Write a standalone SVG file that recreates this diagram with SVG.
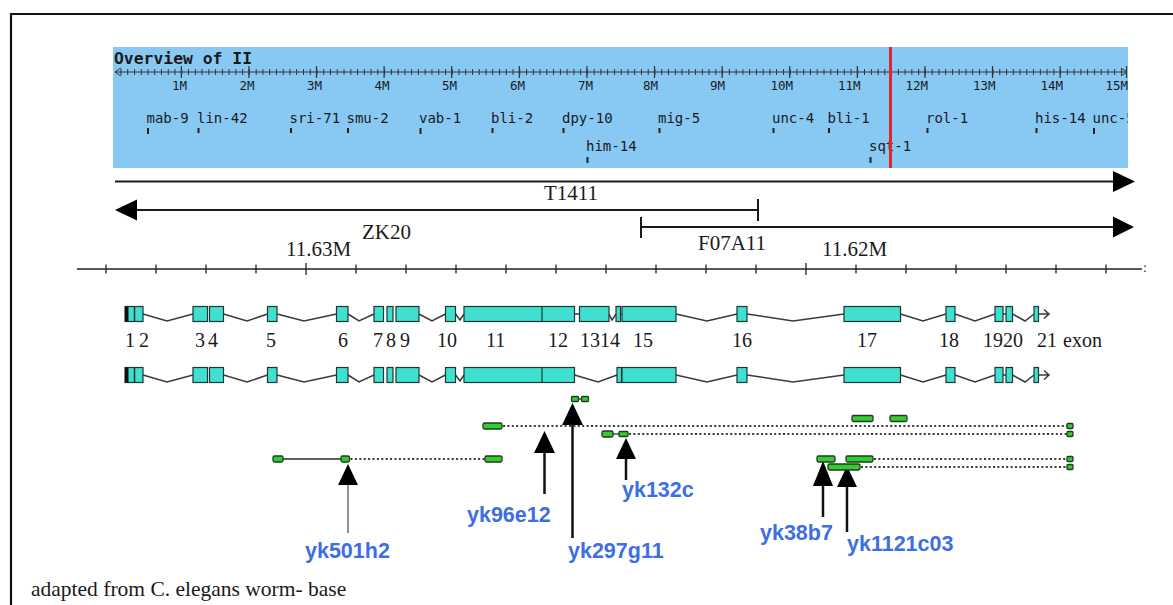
<svg xmlns="http://www.w3.org/2000/svg" width="1173" height="605" viewBox="0 0 1173 605">
<style>
.mono{font-family:"DejaVu Sans Mono","Liberation Mono",monospace;fill:#1a1a1a}
.ser{font-family:"Liberation Serif","Times New Roman",serif;fill:#1a1a1a}
.lab{font-family:"Liberation Sans",Arial,sans-serif;font-weight:bold;font-size:21.5px;fill:#3d6ee4}
.ex{fill:#40e0d0;stroke:#1d3636;stroke-width:1.2}
.intr{fill:none;stroke:#3a3a3a;stroke-width:1.5}
.cl{fill:#33cc33;stroke:#1e3d1e;stroke-width:1.3}
.dot{stroke:#3a3a3a;stroke-width:2;stroke-dasharray:2 2.4;fill:none}
.ln{stroke:#1a1a1a;stroke-width:2;fill:none}
.ar{fill:#000}
.tail{stroke:#111;stroke-width:2.5}
</style>
<defs>
<pattern id="mtick" patternUnits="userSpaceOnUse" x="113.7" y="0" width="6.76" height="10">
<rect x="0" y="0" width="1" height="10" fill="#333"/>
</pattern>
</defs>
<rect width="1173" height="605" fill="#fff"/>
<path d="M11,605 V14 H1173" fill="none" stroke="#111" stroke-width="2.2"/>

<g id="overview">
<rect x="113" y="47" width="1015" height="121" fill="#88c9f4"/>
<text class="mono" x="114" y="64" font-size="15.5" font-weight="bold" textLength="138" lengthAdjust="spacingAndGlyphs">Overview of II</text>
<line x1="115" y1="72" x2="1127" y2="72" stroke="#333" stroke-width="1"/>
<rect x="115" y="69" width="1012" height="6" fill="url(#mtick)"/>
<path d="M121,68 L115,72 L121,76 M1121,68 L1127,72 L1121,76" fill="none" stroke="#333" stroke-width="1"/>
<path d="M181.3,66V78 M248.9,66V78 M316.5,66V78 M384.1,66V78 M451.7,66V78 M519.3,66V78 M586.9,66V78 M654.5,66V78 M722.1,66V78 M789.7,66V78 M857.3,66V78 M924.9,66V78 M992.5,66V78 M1060.1,66V78 M1126.5,66V78" stroke="#333" stroke-width="1.2"/>
<g class="mono" font-size="12.5" text-anchor="end">
<text x="187" y="90">1M</text><text x="254.5" y="90">2M</text><text x="322" y="90">3M</text><text x="389.5" y="90">4M</text><text x="457" y="90">5M</text><text x="525" y="90">6M</text><text x="593" y="90">7M</text><text x="658" y="90">8M</text><text x="725" y="90">9M</text><text x="793" y="90">10M</text><text x="860.5" y="90">11M</text><text x="928" y="90">12M</text><text x="995.5" y="90">13M</text><text x="1063" y="90">14M</text><text x="1128" y="90">15M</text>
</g>
<g class="mono" font-size="14">
<text x="146.5" y="123">mab-9</text><text x="197" y="123">lin-42</text><text x="289.5" y="123">sri-71</text><text x="346.5" y="123">smu-2</text><text x="419" y="123">vab-1</text><text x="491" y="123">bli-2</text><text x="562" y="123">dpy-10</text><text x="658" y="123">mig-5</text><text x="772" y="123">unc-4</text><text x="827.5" y="123">bli-1</text><text x="926" y="123">rol-1</text><text x="1035" y="123">his-14</text>
<svg x="1090" y="100" width="38" height="30" overflow="hidden"><text x="2.5" y="23">unc-5</text></svg>
<text x="586" y="151">him-14</text><text x="869" y="151">sqt-1</text>
</g>
<path d="M148,128V134 M198.5,128V133 M291,128V133 M348,128V133 M420.5,128V134 M492.5,128V133 M563.5,128V133 M659.5,128V133 M773.5,128V133 M829,128V133 M927.5,128V133 M1036.5,128V133 M1094,128V134 M587.5,157V163 M870.5,157V163" stroke="#222" stroke-width="2"/>
<rect x="889" y="47" width="3" height="121" fill="#e0262a"/>
</g>

<g id="clones-map">
<line class="ln" x1="115" y1="181.5" x2="1115" y2="181.5"/>
<polygon class="ar" points="1113,171 1135,181.5 1113,192"/>
<text class="ser" x="544" y="200" font-size="21">T1411</text>
<line class="ln" x1="135" y1="210" x2="758" y2="210"/>
<polygon class="ar" points="115,210 137,199.5 137,220.5"/>
<line class="ln" x1="758" y1="199" x2="758" y2="221"/>
<text class="ser" x="362" y="239" font-size="21">ZK20</text>
<line class="ln" x1="641" y1="227" x2="1115" y2="227"/>
<line class="ln" x1="641" y1="217" x2="641" y2="238"/>
<polygon class="ar" points="1113,216.5 1134,227 1113,237.5"/>
<text class="ser" x="698" y="250" font-size="21">F07A11</text>
</g>

<g id="scale">
<line x1="77" y1="269" x2="1142" y2="269" stroke="#222" stroke-width="1.6"/>
<path d="M106,264.5V273.5 M156,264.5V273.5 M206,264.5V273.5 M256,264.5V273.5 M306,263V275 M356,264.5V273.5 M406,264.5V273.5 M456,264.5V273.5 M506,264.5V273.5 M556,264.5V273.5 M606,264.5V273.5 M656,264.5V273.5 M706,264.5V273.5 M756,264.5V273.5 M806,263V275 M856,264.5V273.5 M906,264.5V273.5 M956,264.5V273.5 M1006,264.5V273.5 M1056,264.5V273.5 M1106,264.5V273.5 M1145,265.5V267 M1145,270.5V272" stroke="#222" stroke-width="1.3"/>
<text class="ser" x="286" y="256" font-size="21">11.63M</text>
<text class="ser" x="822" y="256" font-size="21">11.62M</text>
</g>

<g id="transcript-1">
<path class="intr" d="M143,314 L167,321 L193,314 M223.5,314 L247,321 L267.5,314 M277,314 L304,321 L336.5,314 M348,314 L359,321 L374,314 M419,314 L432,321 L445.5,314 M455.5,314 L460,320 L464,314 M574.5,314 L579.5,314 M609,314 L612,320 L616,314 M620.5,314 L622,314 M676,314 L707,321 L737,314 M747,314 L793,321 L844,314 M900.5,314 L923,321 L946,314 M955,314 L975,321 L995,314 M1003,314 L1006,314 M1012.5,314 L1025,321 L1034,314 M1038.5,314 L1049,314 M1044,309.5 L1049,314 L1044,318.5"/>
<rect class="ex" x="125" y="306.5" width="18" height="15"/>
<rect x="125" y="306.5" width="3.5" height="15" fill="#111"/>
<line x1="134.5" y1="306.5" x2="134.5" y2="321.5" stroke="#1d3636" stroke-width="1.5"/>
<rect class="ex" x="193" y="306.5" width="14.5" height="15"/>
<rect class="ex" x="209.5" y="306.5" width="14" height="15"/>
<rect class="ex" x="267.5" y="306.5" width="9.5" height="15"/>
<rect class="ex" x="336.5" y="306.5" width="11.5" height="15"/>
<rect class="ex" x="374" y="306.5" width="9.5" height="15"/>
<rect class="ex" x="387" y="306.5" width="6" height="15"/>
<rect class="ex" x="396" y="306.5" width="23" height="15"/>
<rect class="ex" x="445.5" y="306.5" width="10" height="15"/>
<rect class="ex" x="464" y="306.5" width="110.5" height="15"/>
<line x1="542" y1="306.5" x2="542" y2="321.5" stroke="#1d3636" stroke-width="1.2"/>
<rect class="ex" x="579.5" y="306.5" width="29.5" height="15"/>
<rect class="ex" x="616" y="306.5" width="4.5" height="15"/>
<rect class="ex" x="622" y="306.5" width="54" height="15"/>
<rect class="ex" x="737" y="306.5" width="10" height="15"/>
<rect class="ex" x="844" y="306.5" width="56.5" height="15"/>
<rect class="ex" x="946" y="306.5" width="9" height="15"/>
<rect class="ex" x="995" y="306.5" width="8" height="15"/>
<rect class="ex" x="1006" y="306.5" width="6.5" height="15"/>
<rect class="ex" x="1034" y="306.5" width="4.5" height="15"/>
</g>

<g id="exon-numbers" class="ser" font-size="20">
<text x="125" y="347">1</text><text x="139" y="347">2</text><text x="195" y="347">3</text><text x="208" y="347">4</text><text x="266" y="347">5</text><text x="338" y="347">6</text><text x="373" y="347">7</text><text x="386" y="347">8</text><text x="400" y="347">9</text><text x="437" y="347">10</text><text x="486" y="347">11</text><text x="548" y="347">12</text><text x="580" y="347">13</text><text x="600" y="347">14</text><text x="633" y="347">15</text><text x="732" y="347">16</text><text x="857" y="347">17</text><text x="939" y="347">18</text><text x="983" y="347">1920</text><text x="1037" y="347">21</text><text x="1063" y="347">exon</text>
</g>

<g id="transcript-2">
<path class="intr" d="M143,375 L167,382 L193,375 M223.5,375 L247,382 L267.5,375 M277,375 L304,382 L336.5,375 M348,375 L359,382 L374,375 M419,375 L432,382 L445.5,375 M455.5,375 L460,381 L464,375 M574.5,375 L598,382 L617,375 M621.5,375 L622,375 M676,375 L707,382 L737,375 M747,375 L793,382 L844,375 M900.5,375 L923,382 L946,375 M955,375 L975,382 L995,375 M1003,375 L1006,375 M1012.5,375 L1025,382 L1034,375 M1038.5,375 L1049,375 M1044,370.5 L1049,375 L1044,379.5"/>
<rect class="ex" x="125" y="367.5" width="18" height="15"/>
<rect x="125" y="367.5" width="3.5" height="15" fill="#111"/>
<line x1="134.5" y1="367.5" x2="134.5" y2="382.5" stroke="#1d3636" stroke-width="1.5"/>
<rect class="ex" x="193" y="367.5" width="14.5" height="15"/>
<rect class="ex" x="209.5" y="367.5" width="14" height="15"/>
<rect class="ex" x="267.5" y="367.5" width="9.5" height="15"/>
<rect class="ex" x="336.5" y="367.5" width="11.5" height="15"/>
<rect class="ex" x="374" y="367.5" width="9.5" height="15"/>
<rect class="ex" x="387" y="367.5" width="6" height="15"/>
<rect class="ex" x="396" y="367.5" width="23" height="15"/>
<rect class="ex" x="445.5" y="367.5" width="10" height="15"/>
<rect class="ex" x="464" y="367.5" width="110.5" height="15"/>
<line x1="542" y1="367.5" x2="542" y2="382.5" stroke="#1d3636" stroke-width="1.2"/>
<rect class="ex" x="617" y="367.5" width="4.5" height="15"/>
<rect class="ex" x="622" y="367.5" width="54" height="15"/>
<rect class="ex" x="737" y="367.5" width="10" height="15"/>
<rect class="ex" x="844" y="367.5" width="56.5" height="15"/>
<rect class="ex" x="946" y="367.5" width="9" height="15"/>
<rect class="ex" x="995" y="367.5" width="8" height="15"/>
<rect class="ex" x="1006" y="367.5" width="6.5" height="15"/>
<rect class="ex" x="1034" y="367.5" width="4.5" height="15"/>
</g>

<g id="connectors">
<polygon class="ar" points="348,464 338,485 358,485"/>
<line x1="348" y1="485" x2="348" y2="533" stroke="#555" stroke-width="1.3"/>
<polygon class="ar" points="544.5,431 534,453 555,453"/>
<line class="tail" x1="544.5" y1="453" x2="544.5" y2="494"/>
<polygon class="ar" points="572.5,403 562,425 583,425"/>
<line class="tail" x1="572.5" y1="425" x2="572.5" y2="538"/>
<polygon class="ar" points="626,438 616,459 636,459"/>
<line class="tail" x1="626" y1="459" x2="626" y2="480"/>
<polygon class="ar" points="823,461 813,486 833,486"/>
<line class="tail" x1="823" y1="486" x2="823" y2="517"/>
<polygon class="ar" points="847,466 837,487 857,487"/>
<line class="tail" x1="847" y1="487" x2="847" y2="532"/>
</g>

<g id="cdna-clones">
<line x1="578.5" y1="399" x2="581.5" y2="399" stroke="#1e3d1e" stroke-width="1.3"/>
<rect class="cl" x="571.5" y="396.5" width="7" height="5" rx="1"/>
<rect class="cl" x="581.5" y="396.5" width="7" height="5" rx="1"/>
<rect class="cl" x="852" y="415.5" width="21" height="6" rx="1.5"/>
<rect class="cl" x="890" y="415.5" width="17" height="6" rx="1.5"/>
<line class="dot" x1="503" y1="426" x2="1067" y2="426"/>
<rect class="cl" x="483" y="423" width="19" height="6" rx="1.5"/>
<rect class="cl" x="1067" y="423.5" width="6" height="5" rx="1"/>
<line x1="613" y1="434" x2="619" y2="434" stroke="#1e3d1e" stroke-width="1.3"/>
<line class="dot" x1="629" y1="434" x2="1067" y2="434"/>
<rect class="cl" x="602" y="431" width="11" height="6" rx="1.5"/>
<rect class="cl" x="619" y="431.5" width="9" height="5" rx="1"/>
<rect class="cl" x="1067" y="431.5" width="6" height="5" rx="1"/>
<line x1="283" y1="459" x2="341" y2="459" stroke="#2a2a2a" stroke-width="1.5"/>
<line class="dot" x1="350.5" y1="459" x2="485" y2="459"/>
<rect class="cl" x="273" y="456" width="10" height="6" rx="1.5"/>
<rect class="cl" x="341" y="456" width="8.5" height="6" rx="1.5"/>
<rect class="cl" x="485" y="456" width="17" height="6" rx="1.5"/>
<line class="dot" x1="874" y1="459" x2="1067" y2="459"/>
<rect class="cl" x="817" y="456" width="18" height="6" rx="1.5"/>
<rect class="cl" x="846" y="456" width="27" height="6" rx="1.5"/>
<rect class="cl" x="1067" y="456.5" width="6" height="5" rx="1"/>
<line class="dot" x1="861" y1="467" x2="1067" y2="467"/>
<rect class="cl" x="828" y="464" width="32" height="6" rx="1.5"/>
<rect class="cl" x="1067" y="464.5" width="6" height="5" rx="1"/>
</g>

<g id="labels">
<text class="lab" x="305" y="558">yk501h2</text>
<text class="lab" x="467" y="522">yk96e12</text>
<text class="lab" x="568" y="558">yk297g11</text>
<text class="lab" x="622" y="497">yk132c</text>
<text class="lab" x="760" y="540">yk38b7</text>
<text class="lab" x="847" y="551">yk1121c03</text>
</g>

<text class="ser" x="31" y="596" font-size="21.5">adapted from C. elegans worm- base</text>
</svg>
